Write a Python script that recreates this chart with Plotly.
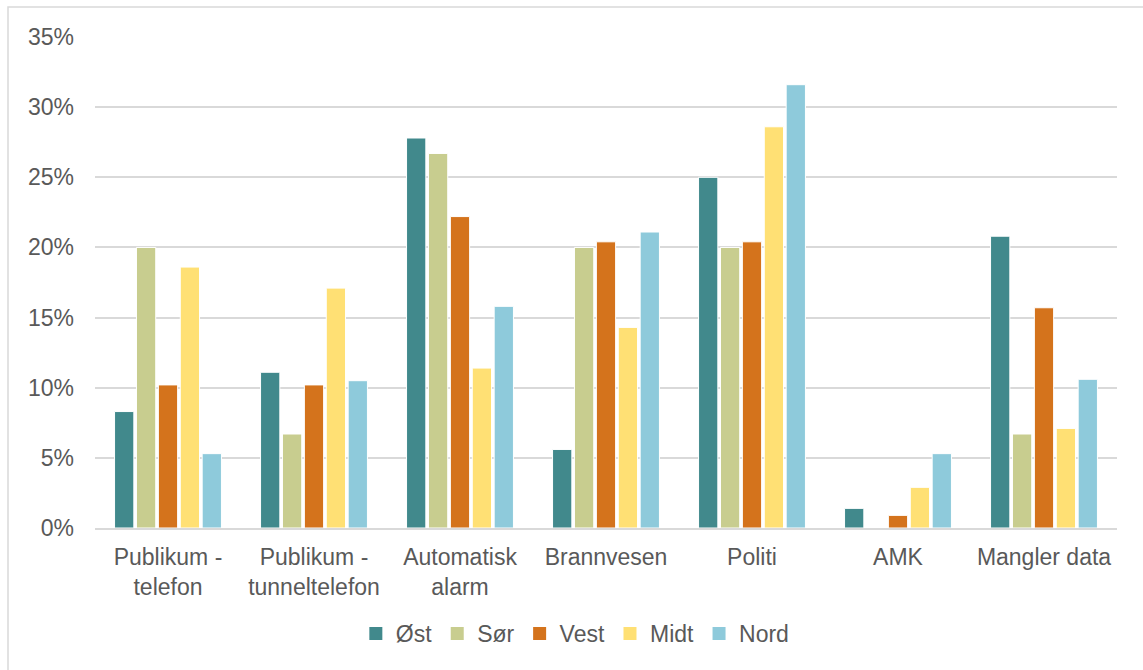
import plotly.graph_objects as go

categories = ["Publikum -<br>telefon", "Publikum -<br>tunneltelefon", "Automatisk<br>alarm",
              "Brannvesen", "Politi", "AMK", "Mangler data"]
series_names = ["Øst", "Sør", "Vest", "Midt", "Nord"]
ost = [8.3, 11.1, 27.8, 5.6, 25.0, 1.4, 20.8]
sor = [20.0, 6.7, 26.7, 20.0, 20.0, 0.0, 6.7]
vest = [10.2, 10.2, 22.2, 20.4, 20.4, 0.9, 15.7]
midt = [18.6, 17.1, 11.4, 14.3, 28.6, 2.9, 7.1]
nord = [5.3, 10.5, 15.8, 21.1, 31.6, 5.3, 10.6]
colors = ["#41898C", "#C8CD8F", "#D4731C", "#FFE074", "#8ECADB"]
tick_vals = [0, 5, 10, 15, 20, 25, 30, 35]
tick_text = [f"{v}%" for v in tick_vals]

fig = go.Figure()
for name, vals, col in zip(series_names, [ost, sor, vest, midt, nord], colors):
    fig.add_trace(go.Bar(x=categories, y=vals, name=name, marker_color=col,
                         marker_line=dict(color="white", width=1), showlegend=False))
for name, col in zip(series_names, colors):
    fig.add_trace(go.Scatter(x=[None], y=[None], mode="markers", name=name,
                             marker=dict(symbol="square", size=13, color=col)))

W, H = 1143, 670
ml, mr, mt, mb = 95, 26, 37, 142
pw, ph = W - ml - mr, H - mt - mb

fig.update_layout(
    width=W, height=H,
    margin=dict(l=ml, r=mr, t=mt, b=mb),
    paper_bgcolor="white", plot_bgcolor="white",
    font=dict(family="Liberation Sans, Arial", size=23, color="#595959"),
    barmode="group", bargap=0.25, bargroupgap=0.12,
    legend=dict(orientation="h", x=0.47, xanchor="center", y=-0.215, yanchor="middle",
                font=dict(size=23, color="#595959"), itemwidth=30, tracegroupgap=0,
                itemclick=False),
    xaxis=dict(showgrid=False, showline=True, linecolor="#D9D9D9", linewidth=1.5,
               ticks="", tickfont=dict(size=23, color="#595959"), ticklabelstandoff=8),
    yaxis=dict(range=[0, 35], tickvals=tick_vals, ticktext=tick_text, showgrid=True,
               gridcolor="#D9D9D9", gridwidth=1.5, zeroline=False, showline=False,
               ticks="", ticklabelstandoff=20, tickfont=dict(size=23, color="#595959")),
    shapes=[dict(type="rect", xref="paper", yref="paper",
                 x0=(8 - ml) / pw, x1=(W + 10 - ml) / pw,
                 y0=-(H + 10 - mt - ph) / ph, y1=1 + (mt - 7) / ph,
                 line=dict(color="#D9D9D9", width=1.5), fillcolor="rgba(0,0,0,0)",
                 layer="below")],
)

fig.write_html("out.html")
